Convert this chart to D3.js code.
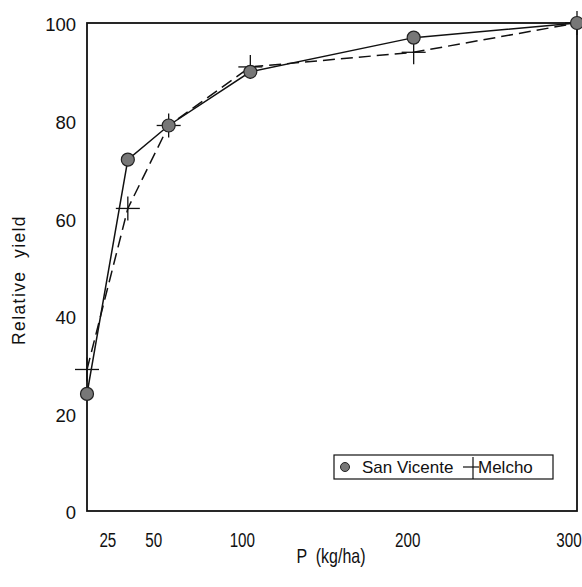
<!DOCTYPE html>
<html>
<head>
<meta charset="utf-8">
<script src="https://cdn.jsdelivr.net/npm/d3@7"></script>
<style>
  body { margin: 0; background: #fff; }
  text { fill: #111; font-family: "Liberation Sans", Arial, sans-serif; }
</style>
</head>
<body>
<svg id="chart"></svg>
<script>
// P rates (kg/ha) and relative yields
var pRates = [0, 25, 50, 100, 200, 300];
var sanVicente = [24, 72, 79, 90, 97, 100];
var melcho = [29, 62, 79, 91, 94, 100];

var xTicks = [25, 50, 100, 200, 300];
var yTicks = [0, 20, 40, 60, 80, 100];
// labels in the original sit a little left of their ticks
var xLabelShift = [-20, -15, -8, -6, -8];

var width = 582, height = 587;
var plot = {left: 87, top: 23, right: 577, bottom: 511};

var svg = d3.select("#chart")
    .attr("width", width)
    .attr("height", height);

var x = d3.scaleLinear().domain([0, 300]).range([plot.left, plot.right]);
var y = d3.scaleLinear().domain([0, 100]).range([plot.bottom, plot.top]);

// Plot frame
svg.append("rect")
    .attr("x", plot.left)
    .attr("y", plot.top)
    .attr("width", plot.right - plot.left)
    .attr("height", plot.bottom - plot.top)
    .attr("fill", "none")
    .attr("stroke", "#111")
    .attr("stroke-width", 1.8);

// Y tick labels
svg.selectAll(".ylab")
    .data(yTicks)
  .enter().append("text")
    .attr("class", "ylab")
    .attr("x", 76)
    .attr("y", function(d) { return y(d) + 2; })
    .attr("dy", ".35em")
    .attr("text-anchor", "end")
    .style("font-size", "18.5px")
    .text(function(d) { return d; });

// X tick labels (condensed look)
svg.selectAll(".xlab")
    .data(xTicks)
  .enter().append("text")
    .attr("class", "xlab")
    .attr("transform", function(d, i) { return "translate(" + (x(d) + xLabelShift[i]) + ",540)scale(0.78,1)"; })
    .attr("dy", ".35em")
    .attr("text-anchor", "middle")
    .style("font-size", "19.5px")
    .text(function(d) { return d; });

// Axis titles
svg.append("text")
    .attr("transform", "translate(331,563)scale(0.78,1)")
    .attr("text-anchor", "middle")
    .style("font-size", "20.5px")
    .attr("xml:space", "preserve")
    .text("P  (kg/ha)");

svg.append("text")
    .attr("transform", "translate(25,280)rotate(-90)")
    .attr("text-anchor", "middle")
    .style("font-size", "17.5px")
    .style("letter-spacing", "1.4px")
    .attr("xml:space", "preserve")
    .text("Relative  yield");

var line = d3.line()
    .x(function(d) { return x(d[0]); })
    .y(function(d) { return y(d[1]); });

var svData = d3.zip(pRates, sanVicente);
var meData = d3.zip(pRates, melcho);

// Melcho dashed line
svg.append("path")
    .datum(meData)
    .attr("d", line)
    .attr("fill", "none")
    .attr("stroke", "#111")
    .attr("stroke-width", 1.5)
    .attr("stroke-dasharray", "12,6");

// San Vicente solid line
svg.append("path")
    .datum(svData)
    .attr("d", line)
    .attr("fill", "none")
    .attr("stroke", "#111")
    .attr("stroke-width", 1.5);

// Melcho crosses
var arm = 12;
var cross = svg.selectAll(".cross")
    .data(meData)
  .enter().append("g")
    .attr("class", "cross")
    .attr("transform", function(d) { return "translate(" + x(d[0]) + "," + y(d[1]) + ")"; });

cross.append("line")
    .attr("x1", -arm).attr("x2", arm)
    .attr("stroke", "#111").attr("stroke-width", 1.3);
cross.append("line")
    .attr("y1", -arm).attr("y2", arm)
    .attr("stroke", "#111").attr("stroke-width", 1.3);

// San Vicente dots
svg.selectAll(".dot")
    .data(svData)
  .enter().append("circle")
    .attr("class", "dot")
    .attr("cx", function(d) { return x(d[0]); })
    .attr("cy", function(d) { return y(d[1]); })
    .attr("r", 6.5)
    .attr("fill", "#777")
    .attr("stroke", "#222")
    .attr("stroke-width", 1.2);

// Legend
var legend = svg.append("g").attr("transform", "translate(334,455)");

legend.append("rect")
    .attr("width", 219)
    .attr("height", 24)
    .attr("fill", "#fff")
    .attr("stroke", "#111")
    .attr("stroke-width", 1.2);

legend.append("circle")
    .attr("cx", 11)
    .attr("cy", 12)
    .attr("r", 4.5)
    .attr("fill", "#777")
    .attr("stroke", "#222")
    .attr("stroke-width", 1);

legend.append("text")
    .attr("x", 28)
    .attr("y", 12)
    .attr("dy", ".35em")
    .style("font-size", "17px")
    .text("San Vicente");

legend.append("line")
    .attr("x1", 129).attr("x2", 145)
    .attr("y1", 12).attr("y2", 12)
    .attr("stroke", "#111").attr("stroke-width", 1.2);
legend.append("line")
    .attr("x1", 139).attr("x2", 139)
    .attr("y1", 2).attr("y2", 24)
    .attr("stroke", "#111").attr("stroke-width", 1.2);

legend.append("text")
    .attr("x", 144)
    .attr("y", 12)
    .attr("dy", ".35em")
    .style("font-size", "17px")
    .text("Melcho");
</script>
</body>
</html>
